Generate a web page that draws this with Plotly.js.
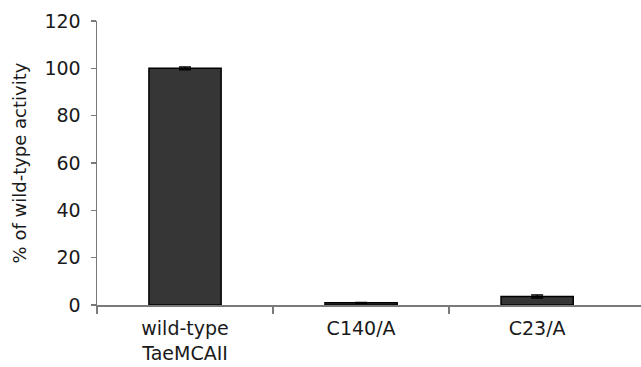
<!DOCTYPE html>
<html><head><meta charset="utf-8">
<script src="https://cdn.plot.ly/plotly-3.0.1.min.js"></script>
<style>html,body{margin:0;padding:0;background:#fff;}#chart{width:641px;height:367px;}</style>
</head><body><div id="chart"></div>
<script>
const categories = ["wild-type<br>TaeMCAII", "C140/A", "C23/A"];
const activity = [100, 0.9, 3.6];
const errors = [0.6, 0.2, 0.6];
const yTicks = [0, 20, 40, 60, 80, 100, 120];

const xIdx = categories.map((c, i) => i);
const boundaries = categories.slice(0, -1).map((c, i) => i + 0.5).concat([-0.5]);

const trace = {
  type: 'bar', x: xIdx, y: activity, width: 0.41,
  marker: {color: '#363636', line: {color: '#000', width: 1.5}},
  error_y: {type: 'data', array: errors, visible: true, color: '#000', thickness: 1.5, width: 6}
};
const layout = {
  width: 641, height: 367,
  margin: {l: 97, r: 0, t: 21, b: 62},
  paper_bgcolor: '#fff', plot_bgcolor: '#fff',
  font: {family: 'DejaVu Sans, Liberation Sans, sans-serif', color: '#1a1a1a', size: 19},
  showlegend: false,
  xaxis: {
    range: [-0.5, 2.59], tickmode: 'array', tickvals: xIdx, ticktext: categories,
    ticks: '', showgrid: false, zeroline: false, fixedrange: true,
    showline: true, linecolor: '#7a7a7a', linewidth: 1.5,
    ticklabelstandoff: 6,
    minor: {tickmode: 'array', tickvals: boundaries, ticks: 'outside', ticklen: 7, tickcolor: '#7a7a7a', tickwidth: 1.5, showgrid: false},
    tickfont: {size: 19}
  },
  yaxis: {
    range: [0, 120], tickmode: 'array', tickvals: yTicks,
    ticks: 'outside', ticklen: 5, tickcolor: '#7a7a7a', tickwidth: 1.5,
    showline: true, linecolor: '#7a7a7a', linewidth: 1.5,
    showgrid: false, zeroline: false,
    ticklabelstandoff: 6,
    tickfont: {size: 19},
    title: {text: '% of wild-type activity', font: {size: 18}, standoff: 13}
  }
};
Plotly.newPlot('chart', [trace], layout, {staticPlot: true});
</script></body></html>
